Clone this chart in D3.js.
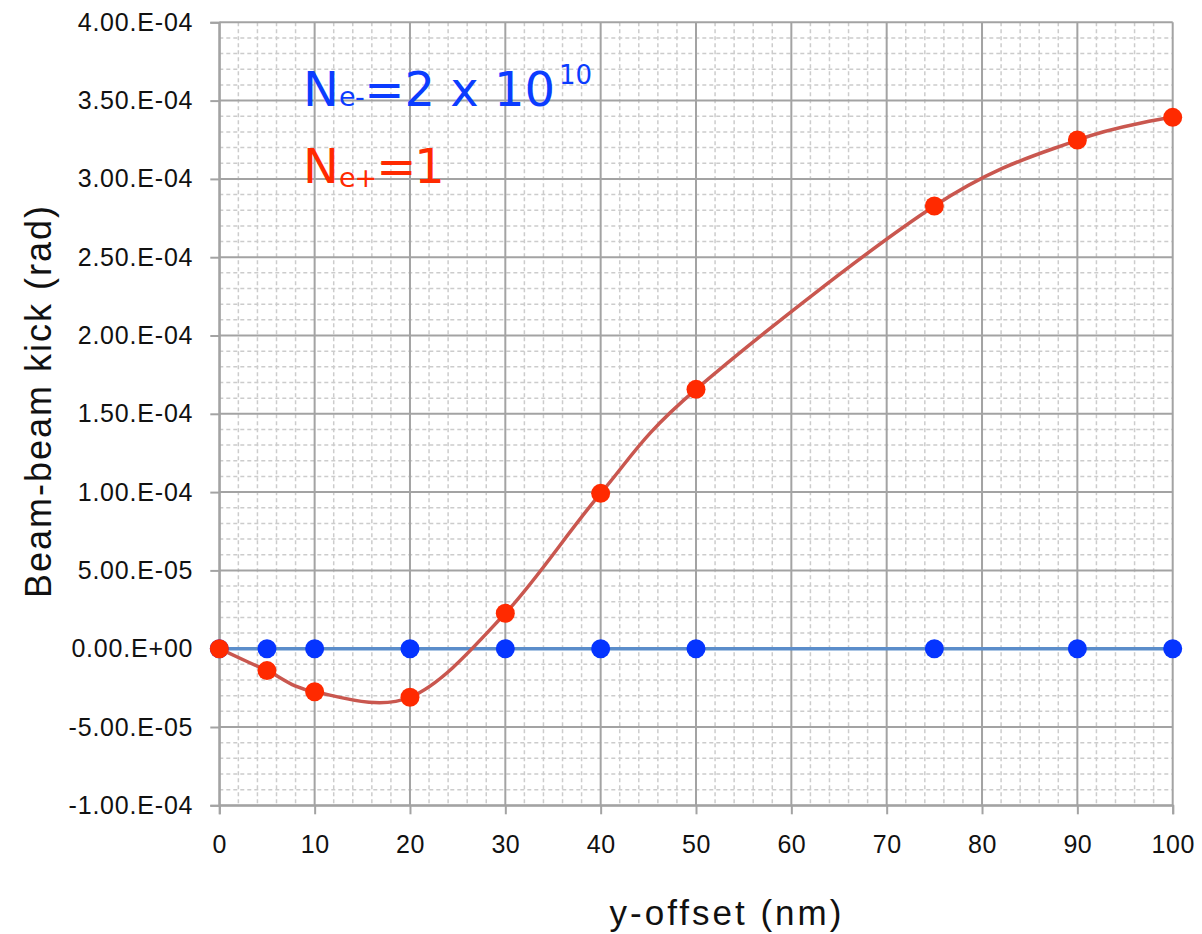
<!DOCTYPE html>
<html>
<head>
<meta charset="utf-8">
<script src="https://cdn.jsdelivr.net/npm/d3@7"></script>
<style>
  html, body { margin: 0; padding: 0; background: #fff; }
  svg { display: block; }
</style>
</head>
<body>
<svg id="chart" width="1202" height="934"></svg>
<script>
// ---- data ----
const xOffsets = [0, 5, 10, 20, 30, 40, 50, 75, 90, 100];
const kickElectron = [0, 0, 0, 0, 0, 0, 0, 0, 0, 0];
const kickPositron = [0, -1.40e-5, -2.75e-5, -3.10e-5, 2.26e-5, 9.92e-5, 1.656e-4, 2.827e-4, 3.248e-4, 3.393e-4];
const xTickValues = [0, 10, 20, 30, 40, 50, 60, 70, 80, 90, 100];
const yTickValues = [-1e-4, -5e-5, 0, 5e-5, 1e-4, 1.5e-4, 2e-4, 2.5e-4, 3e-4, 3.5e-4, 4e-4];
const yTickLabels = ["-1.00.E-04", "-5.00.E-05", "0.00.E+00", "5.00.E-05", "1.00.E-04", "1.50.E-04",
                     "2.00.E-04", "2.50.E-04", "3.00.E-04", "3.50.E-04", "4.00.E-04"];
const xMinorStep = 2;
const yMinorStep = 1e-5;
const xTitle = "y-offset (nm)";
const yTitle = "Beam-beam kick (rad)";

(function () {
// ---- layout ----
const svg = d3.select("#chart");
const pLeft = 219.3, pRight = 1172.7, pTop = 22.3, pBottom = 805.3;
const x = d3.scaleLinear().domain([0, 100]).range([pLeft, pRight]);
const y = d3.scaleLinear().domain([-1e-4, 4e-4]).range([pBottom, pTop]);

const font = "'Liberation Sans', Arial, Helvetica, sans-serif";

// minor grid
const xMinor = d3.range(0, 100 + 1e-9, xMinorStep).filter(v => Math.abs(v % 10) > 1e-9);
const yMinor = d3.range(-1e-4, 4e-4 + 1e-12, yMinorStep).filter(v => Math.abs(Math.round(v / 1e-5) % 5) !== 0);

const grid = svg.append("g");
grid.selectAll("line.xm").data(xMinor).join("line")
  .attr("x1", d => x(d)).attr("x2", d => x(d)).attr("y1", pTop).attr("y2", pBottom)
  .attr("stroke", "#cccccc").attr("stroke-width", 1.5).attr("stroke-dasharray", "4,3");
grid.selectAll("line.ym").data(yMinor).join("line")
  .attr("y1", d => y(d)).attr("y2", d => y(d)).attr("x1", pLeft).attr("x2", pRight)
  .attr("stroke", "#cccccc").attr("stroke-width", 1.5).attr("stroke-dasharray", "4,3");

// major grid
const gridMajor = svg.append("g");
gridMajor.selectAll("line").data(xTickValues).join("line")
  .attr("x1", d => x(d)).attr("x2", d => x(d)).attr("y1", pTop).attr("y2", pBottom)
  .attr("stroke", "#a3a3a3").attr("stroke-width", 2);
const gridMajorY = svg.append("g");
gridMajorY.selectAll("line").data(yTickValues).join("line")
  .attr("y1", d => y(d)).attr("y2", d => y(d)).attr("x1", pLeft).attr("x2", pRight)
  .attr("stroke", "#a3a3a3").attr("stroke-width", 2);

// axes
const xAxis = d3.axisBottom(x).tickValues(xTickValues).tickSize(9).tickPadding(21).tickFormat(d3.format("d"));
const gx = svg.append("g").attr("transform", `translate(0,${pBottom})`).call(xAxis);
gx.select(".domain").attr("stroke", "#a3a3a3").attr("stroke-width", 2);
gx.selectAll(".tick line").attr("stroke", "#a3a3a3").attr("stroke-width", 2);
gx.selectAll(".tick text").attr("font-family", font).attr("font-size", 25).attr("fill", "#111")
  .attr("letter-spacing", "0.5px");

const yAxis = d3.axisLeft(y).tickValues(yTickValues).tickSize(9).tickPadding(17)
  .tickFormat((d, i) => yTickLabels[i]);
const gy = svg.append("g").attr("transform", `translate(${pLeft},0)`).call(yAxis);
gy.select(".domain").attr("stroke", "#a3a3a3").attr("stroke-width", 2);
gy.selectAll(".tick line").attr("stroke", "#a3a3a3").attr("stroke-width", 2);
gy.selectAll(".tick text").attr("font-family", font).attr("font-size", 25).attr("fill", "#111")
  .attr("letter-spacing", "0.8px");

// series
const curveSmooth = d3.curveCatmullRom.alpha(0);
const lineE = d3.line().x((d, i) => x(xOffsets[i])).y(d => y(d));
svg.append("path").datum(kickElectron)
  .attr("d", lineE).attr("fill", "none").attr("stroke", "#5b8dca").attr("stroke-width", 3.5);
svg.append("g").selectAll("circle").data(kickElectron).join("circle")
  .attr("cx", (d, i) => x(xOffsets[i])).attr("cy", d => y(d)).attr("r", 9.5).attr("fill", "#0534ff");

const lineP = d3.line().x((d, i) => x(xOffsets[i])).y(d => y(d)).curve(curveSmooth);
svg.append("path").datum(kickPositron)
  .attr("d", lineP).attr("fill", "none").attr("stroke", "#c9574f").attr("stroke-width", 3.5);
svg.append("g").selectAll("circle").data(kickPositron).join("circle")
  .attr("cx", (d, i) => x(xOffsets[i])).attr("cy", d => y(d)).attr("r", 9.5).attr("fill", "#ff2a00");

// annotations (natural text flow, sub/superscripts via dy)
const annFont = "'DejaVu Sans', 'Liberation Sans', sans-serif";
const t1 = svg.append("text").attr("font-family", annFont).attr("fill", "#0b3cff")
  .attr("x", 303).attr("y", 106).attr("font-size", 48);
t1.append("tspan").text("N");
t1.append("tspan").attr("font-size", 27).attr("letter-spacing", "-0.5px").text("e-");
t1.append("tspan").text("=2 x 10");
t1.append("tspan").attr("dy", -22).attr("dx", 4).attr("font-size", 26).text("10");

const t2 = svg.append("text").attr("font-family", annFont).attr("fill", "#ff2a00")
  .attr("x", 303).attr("y", 183).attr("font-size", 48);
t2.append("tspan").text("N");
t2.append("tspan").attr("dy", 4).attr("font-size", 27).attr("letter-spacing", "-1px").text("e+");
t2.append("tspan").attr("dy", -4).attr("letter-spacing", "-2px").text("=1");

// axis titles
svg.append("text").attr("x", 727).attr("y", 925).attr("text-anchor", "middle")
  .attr("font-family", font).attr("font-size", 35).attr("letter-spacing", "3px").attr("fill", "#111")
  .text(xTitle);
svg.append("text").attr("transform", "translate(51,401) rotate(-90)").attr("text-anchor", "middle")
  .attr("font-family", font).attr("font-size", 36).attr("letter-spacing", "2px").attr("fill", "#111")
  .text(yTitle);
})();
</script>
</body>
</html>
